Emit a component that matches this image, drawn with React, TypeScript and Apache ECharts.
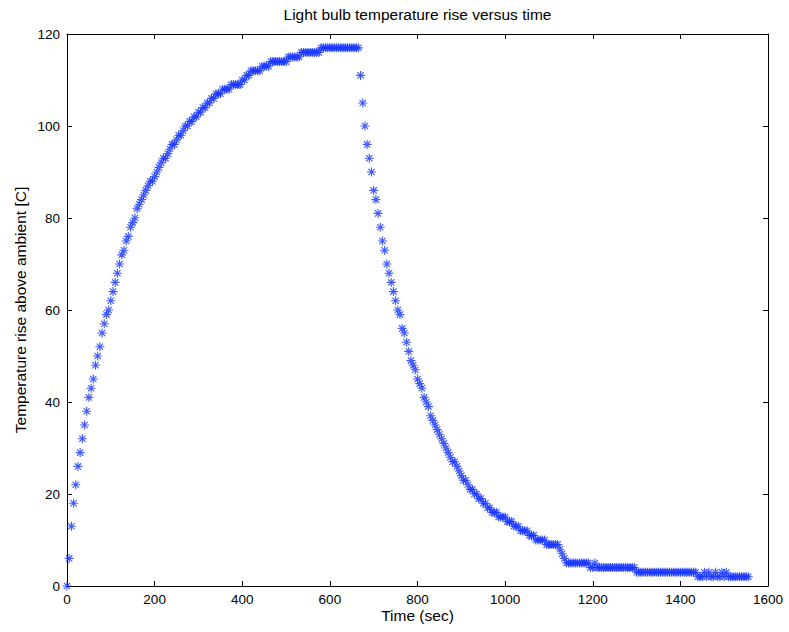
import React, { useEffect, useRef } from "react";
import * as echarts from "echarts";

// Sampling: one reading every 5 seconds
const sampleStepSec = 5;

// Heating phase (lamp on): t = 0 .. 665 s
const heatingStartSec = 0;
const heatingTemps = [
  0, 6, 13, 18, 22, 26, 29, 32, 35, 38,
  41, 43, 45, 48, 50, 52, 55, 57, 59, 60,
  62, 64, 66, 68, 70, 72, 73, 75, 76, 78,
  79, 80, 82, 83, 84, 85, 86, 87, 88, 88,
  89, 90, 91, 92, 93, 93, 94, 95, 96, 96,
  97, 98, 98, 99, 100, 100, 101, 101, 102, 102,
  103, 103, 104, 104, 105, 105, 106, 106, 107, 107,
  107, 108, 108, 108, 108, 109, 109, 109, 109, 109,
  110, 110, 111, 111, 112, 112, 112, 112, 112, 113,
  113, 113, 113, 114, 114, 114, 114, 114, 114, 114,
  114, 115, 115, 115, 115, 115, 115, 116, 116, 116,
  116, 116, 116, 116, 116, 116, 117, 117, 117, 117,
  117, 117, 117, 117, 117, 117, 117, 117, 117, 117,
  117, 117, 117, 117,
];

// Cooling phase (lamp off): t = 670 .. 1555 s
const coolingStartSec = 670;
const coolingTemps = [
  111, 105, 100, 96, 93, 90, 86, 84, 81, 78,
  75, 73, 70, 68, 66, 64, 62, 60, 59, 56,
  55, 53, 51, 49, 48, 47, 45, 44, 43, 41,
  40, 39, 37, 36, 35, 34, 33, 32, 31, 30,
  29, 28, 27, 27, 26, 25, 24, 23, 23, 22,
  21, 21, 20, 20, 19, 19, 18, 18, 17, 17,
  16, 16, 16, 15, 15, 15, 15, 14, 14, 14,
  13, 13, 13, 12, 12, 12, 12, 11, 11, 11,
  10, 10, 10, 10, 10, 9, 9, 9, 9, 9,
  9, 8, 7, 6, 5, 5, 5, 5, 5, 5,
  5, 5, 5, 5, 5, 4, 4, 5, 4, 4,
  4, 4, 4, 4, 4, 4, 4, 4, 4, 4,
  4, 4, 4, 4, 4, 4, 3, 3, 3, 3,
  3, 3, 3, 3, 3, 3, 3, 3, 3, 3,
  3, 3, 3, 3, 3, 3, 3, 3, 3, 3,
  3, 3, 3, 3, 2, 2, 2, 3, 2, 3,
  2, 2, 3, 2, 2, 3, 2, 3, 2, 2,
  2, 2, 2, 2, 2, 2, 2, 2,
];

const xMin = 0;
const xMax = 1600;
const xStep = 200;
const yMin = 0;
const yMax = 120;
const yStep = 20;

const titleText = "Light bulb temperature rise versus time";
const xTitle = "Time (sec)";
const yTitle = "Temperature rise above ambient [C]";

const FONT = "'Liberation Sans', Arial, Helvetica, sans-serif";
const MARKER_COLOR = "#1533ff";
const ASTERISK =
  "path://M5,0L5,10M0,5L10,5M1.5,1.5L8.5,8.5M1.5,8.5L8.5,1.5";

const W = 789;
const H = 632;
const GRID = { left: 67, right: 21, top: 34, bottom: 46 };

export default function App() {
  const ref = useRef<HTMLDivElement>(null);

  useEffect(() => {
    if (!ref.current) return;
    const chart = echarts.init(ref.current, undefined, { renderer: "svg" });

    const points: number[][] = [];
    heatingTemps.forEach((v, i) =>
      points.push([heatingStartSec + i * sampleStepSec, v])
    );
    coolingTemps.forEach((v, i) =>
      points.push([coolingStartSec + i * sampleStepSec, v])
    );

    const plotCenterX = GRID.left + (W - GRID.left - GRID.right) / 2;
    const plotCenterY = GRID.top + (H - GRID.top - GRID.bottom) / 2;

    const axisLine = { show: true, onZero: false, lineStyle: { color: "#000", width: 1 } };
    const tick = { show: true, inside: true, length: 5, lineStyle: { color: "#000", width: 1 } };
    const label = {
      color: "#000",
      fontSize: 13.5,
      fontFamily: FONT,
      formatter: (v: number) => String(v),
    };
    const nameStyle = {
      fill: "#000",
      fontSize: 15.5,
      fontFamily: FONT,
      textAlign: "center",
      textVerticalAlign: "middle",
    };

    chart.setOption({
      animation: false,
      backgroundColor: "#fff",
      grid: { ...GRID, containLabel: false },
      xAxis: [
        {
          type: "value",
          position: "bottom",
          min: xMin,
          max: xMax,
          interval: xStep,
          axisLine,
          axisTick: tick,
          axisLabel: { ...label, margin: 6 },
          splitLine: { show: false },
        },
        {
          type: "value",
          position: "top",
          min: xMin,
          max: xMax,
          interval: xStep,
          axisLine,
          axisTick: tick,
          axisLabel: { show: false },
          splitLine: { show: false },
        },
      ],
      yAxis: [
        {
          type: "value",
          position: "left",
          min: yMin,
          max: yMax,
          interval: yStep,
          axisLine,
          axisTick: tick,
          axisLabel: { ...label, margin: 7 },
          splitLine: { show: false },
        },
        {
          type: "value",
          position: "right",
          min: yMin,
          max: yMax,
          interval: yStep,
          axisLine,
          axisTick: tick,
          axisLabel: { show: false },
          splitLine: { show: false },
        },
      ],
      graphic: [
        {
          type: "text",
          x: plotCenterX,
          y: 14,
          style: { ...nameStyle, text: titleText },
        },
        {
          type: "text",
          x: plotCenterX,
          y: 615,
          style: { ...nameStyle, text: xTitle },
        },
        {
          type: "text",
          x: 20,
          y: plotCenterY,
          rotation: Math.PI / 2,
          style: { ...nameStyle, text: yTitle },
        },
      ],
      series: [
        {
          type: "scatter",
          xAxisIndex: 0,
          yAxisIndex: 0,
          data: points,
          symbol: ASTERISK,
          symbolSize: 9,
          silent: true,
          itemStyle: {
            color: "rgba(0,0,0,0)",
            borderColor: MARKER_COLOR,
            borderWidth: 1.15,
          },
        },
      ],
    });

    return () => chart.dispose();
  }, []);

  return (
    <div
      ref={ref}
      style={{ position: "fixed", left: 0, top: 0, width: W, height: H, background: "#fff" }}
    />
  );
}
